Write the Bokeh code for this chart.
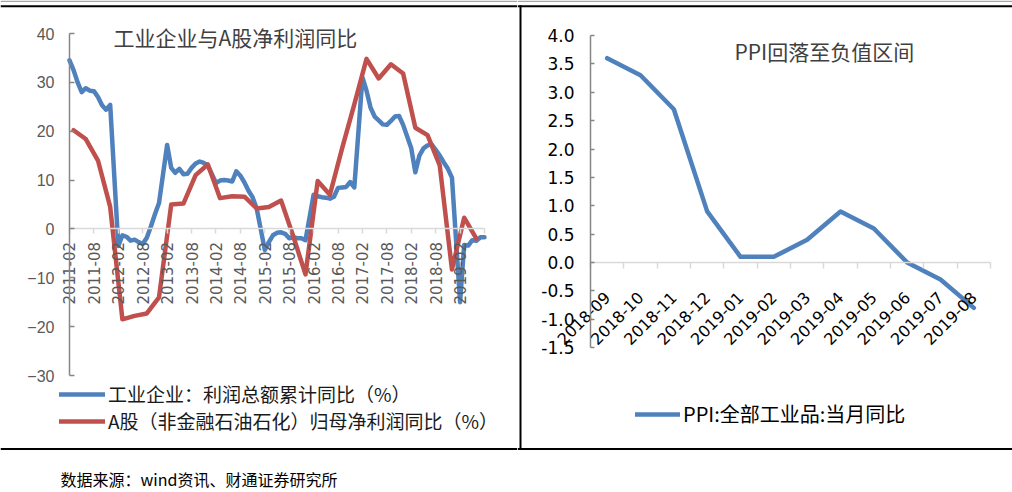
import math
from bokeh.plotting import figure
from bokeh.layouts import column, row
from bokeh.models import FixedTicker, Label, Legend, LegendItem, NumeralTickFormatter, BoxAnnotation
from bokeh.embed import file_html
from bokeh.resources import INLINE

# ---------------- data ----------------
# Industrial enterprises: cumulative profit YoY (%), monthly, January not published
blue_months = [f"{y}-{m:02d}" for y in range(2011, 2020) for m in range(2, 13)
               if not (y == 2019 and m > 8)]
blue_values = [
    34.5, 32.5, 30.0, 28.0, 28.8, 28.3, 28.2, 27.0, 25.3, 24.4, 25.4,   # 2011
    -3.5, -1.3, -1.6, -2.4, -2.2, -2.7, -3.1, -1.8, 0.5, 3.0, 5.3,      # 2012
    17.2, 12.5, 11.5, 12.3, 11.2, 11.3, 12.5, 13.4, 13.8, 13.5, 13.0,   # 2013
    9.4, 9.9, 10.0, 9.9, 9.7, 11.8, 10.9, 9.5, 7.8, 6.5, 4.2,           # 2014
    -4.3, -2.7, -1.3, -0.8, -0.7, -1.0, -1.9, -1.7, -1.9, -1.9, -2.3,   # 2015
    7.0, 6.7, 6.5, 6.4, 6.2, 6.6, 8.4, 8.5, 8.6, 9.6, 8.5,              # 2016
    31.0, 28.3, 24.8, 23.0, 22.2, 21.4, 21.3, 22.1, 23.0, 23.1, 21.3,   # 2017
    16.5, 11.6, 15.0, 16.5, 17.1, 17.3, 16.2, 15.0, 13.6, 12.3, 10.5,   # 2018
    -15.0, -3.3, -3.4, -2.3, -2.4, -1.7, -1.7,                          # 2019
]
# A-shares (ex financials, oil & petrochemicals): net profit YoY (%), quarterly
red_months = [f"{y}-{m:02d}" for y in range(2011, 2020) for m in (3, 6, 9, 12)
              if not (y == 2019 and m > 6)]
red_values = [
    20.2, 18.4, 14.0, 4.5,
    -18.5, -17.8, -17.3, -14.0,
    5.0, 5.2, 11.0, 13.2,
    6.3, 6.7, 6.6, 4.2,
    4.5, 5.8, -1.5, -9.3,
    9.8, 7.0, 16.5, 25.5,
    34.8, 30.8, 33.7, 31.8,
    20.7, 19.2, 13.0, -8.3,
    2.3, -2.0,
]
left_tick_labels = ["2011-02", "2011-08", "2012-02", "2012-08", "2013-02", "2013-08",
                    "2014-02", "2014-08", "2015-02", "2015-08", "2016-02", "2016-08",
                    "2017-02", "2017-08", "2018-02", "2018-08", "2019-02"]
left_axis_end = "2019-08"
left_yticks = [-30, -20, -10, 0, 10, 20, 30, 40]

ppi_months = ["2018-09", "2018-10", "2018-11", "2018-12", "2019-01", "2019-02",
              "2019-03", "2019-04", "2019-05", "2019-06", "2019-07", "2019-08"]
ppi_values = [3.6, 3.3, 2.7, 0.9, 0.1, 0.1, 0.4, 0.9, 0.6, 0.0, -0.3, -0.8]
right_yticks = [-1.5, -1.0, -0.5, 0.0, 0.5, 1.0, 1.5, 2.0, 2.5, 3.0, 3.5, 4.0]

left_title = "工业企业与A股净利润同比"
right_title = "PPI回落至负值区间"
blue_label = "工业企业：利润总额累计同比（%）"
red_label = "A股（非金融石油石化）归母净利润同比（%）"
ppi_label = "PPI:全部工业品:当月同比"
source_text = "数据来源：wind资讯、财通证券研究所"

BLUE = "#4F81BD"
RED = "#C0504D"
CJK = "Noto Sans CJK SC"
LAT = "Liberation Sans"
DJV = "DejaVu Sans"

# ---------------- layout geometry (pixels) ----------------
W, H_MAIN, H_SRC = 1012, 450, 42
LEFT_W = 517
RIGHT_W = W - LEFT_W
# left plot: x axis from px 69 to 484, y: 40 -> px 33, -30 -> px 375
L_X0, L_X1 = 69.0, 484.0
L_Y40, L_YM30 = 33.0, 375.0
# right plot: categories from px 590 to 990, y: 4.0 -> px 35, 0 -> px 262
R_X0, R_X1 = 590.0, 990.0
R_Y4, R_Y0 = 35.0, 262.0


def month_index(s):
    y, m = s.split("-")
    return (int(y) - 2011) * 12 + int(m) - 2


end_idx = month_index(left_axis_end)
lsx = (L_X1 - L_X0) / end_idx
lsy = (L_YM30 - L_Y40) / 70.0
l_zero = L_Y40 + 40 * lsy


def lx(px):
    return (px - L_X0) / lsx


def ly(py):
    return (l_zero - py) / lsy


nR = len(ppi_months)
rsx = (R_X1 - R_X0) / nR
rsy = (R_Y0 - R_Y4) / 4.0


def rx(px):
    return (px - R_X0) / rsx - 0.5


def ry(py):
    return (R_Y0 - py) / rsy


def bare(p):
    p.xgrid.visible = False
    p.ygrid.visible = False
    p.outline_line_color = None
    p.background_fill_color = "white"
    p.border_fill_color = "white"


def decorate(p, fx, fy):
    # top grey + black rules and bottom black rule of the report frame
    p.add_layout(BoxAnnotation(top=fy(0), bottom=fy(1.6), fill_color="#a6a6a6",
                               fill_alpha=1, line_color=None))
    p.add_layout(BoxAnnotation(top=fy(4.7), bottom=fy(6.7), fill_color="black",
                               fill_alpha=1, line_color=None))
    p.add_layout(BoxAnnotation(top=fy(447.5), bottom=fy(H_MAIN), fill_color="black",
                               fill_alpha=1, line_color=None))


# ---------------- left chart ----------------
left = figure(width=LEFT_W, height=H_MAIN, output_backend="svg", toolbar_location=None,
              x_range=(lx(0), lx(LEFT_W)), y_range=(ly(H_MAIN), ly(0)), min_border=0)
bare(left)
decorate(left, lx, ly)

rb = left.line([month_index(m) for m in blue_months], blue_values, line_color=BLUE,
               line_width=4.5, line_join="round", line_cap="round")
rr = left.line([month_index(m) for m in red_months], red_values, line_color=RED,
               line_width=4.5, line_join="round", line_cap="round")

xa = left.xaxis[0]
xa.fixed_location = 0
xa.bounds = (0, end_idx)
tick_pos = [month_index(s) for s in left_tick_labels] + [end_idx]
xa.ticker = FixedTicker(ticks=tick_pos, minor_ticks=[])
overrides = {month_index(s): s for s in left_tick_labels}
overrides[end_idx] = ""
xa.major_label_overrides = overrides
xa.major_label_orientation = math.pi / 2
xa.major_label_text_font = DJV
xa.major_label_text_font_size = "15px"
xa.major_label_text_color = "#595959"
xa.major_label_standoff = 8
xa.axis_line_color = "#d9d9d9"
xa.axis_line_width = 1.5
xa.major_tick_line_color = "#d9d9d9"
xa.major_tick_line_width = 1.5
xa.major_tick_out = 5
xa.major_tick_in = 0
xa.minor_tick_line_color = None

ya = left.yaxis[0]
ya.fixed_location = 0
ya.bounds = (-30, 40)
ya.ticker = FixedTicker(ticks=left_yticks, minor_ticks=[])
ya.major_label_text_font = LAT
ya.major_label_text_font_size = "16px"
ya.major_label_text_color = "#595959"
ya.major_label_standoff = 15
ya.axis_line_color = "#868686"
ya.axis_line_width = 1.5
ya.major_tick_line_color = "#868686"
ya.major_tick_line_width = 1.5
ya.major_tick_in = 5
ya.major_tick_out = 0
ya.minor_tick_line_color = None

left.add_layout(Label(x=113, y=H_MAIN - 36, x_units="screen", y_units="screen", text=left_title,
                      text_font=CJK, text_font_size="21px", text_color="#404040",
                      text_baseline="middle"))

lleg = Legend(items=[LegendItem(label=blue_label, renderers=[rb]),
                     LegendItem(label=red_label, renderers=[rr])],
              location=(59, 16), orientation="vertical", padding=0, margin=0,
              spacing=-4, glyph_width=46, glyph_height=22, label_height=22,
              label_standoff=3, border_line_color=None, background_fill_alpha=0,
              label_text_font=CJK, label_text_font_size="19px", label_text_color="#1a1a1a")
left.add_layout(lleg)

# ---------------- right chart ----------------
right = figure(width=RIGHT_W, height=H_MAIN, output_backend="svg", toolbar_location=None,
               x_range=(rx(LEFT_W), rx(W)), y_range=(ry(H_MAIN), ry(0)), min_border=0)
bare(right)
decorate(right, rx, ry)
# vertical divider between the two panels
right.add_layout(BoxAnnotation(left=rx(519), right=rx(521), top=ry(4.7), bottom=ry(H_MAIN),
                               fill_color="black", fill_alpha=1, line_color=None))

rp = right.line(list(range(nR)), ppi_values, line_color=BLUE, line_width=4.5,
                line_join="round", line_cap="round")

rxa = right.xaxis[0]
rxa.fixed_location = 0
rxa.bounds = (-0.5, nR - 0.5)
rxa.ticker = FixedTicker(ticks=list(range(nR)), minor_ticks=[i - 0.5 for i in range(nR + 1)])
rxa.major_label_overrides = {i: s for i, s in enumerate(ppi_months)}
rxa.major_label_orientation = math.pi / 4
rxa.major_label_text_font = DJV
rxa.major_label_text_font_size = "16px"
rxa.major_label_text_color = "#000000"
rxa.major_label_standoff = 26
rxa.axis_line_color = "#d9d9d9"
rxa.axis_line_width = 1.5
rxa.major_tick_line_color = None
rxa.major_tick_out = 0
rxa.major_tick_in = 0
rxa.minor_tick_line_color = "#d9d9d9"
rxa.minor_tick_line_width = 1.5
rxa.minor_tick_out = 6
rxa.minor_tick_in = 0

rya = right.yaxis[0]
rya.fixed_location = -0.5
rya.bounds = (-1.5, 4.0)
rya.ticker = FixedTicker(ticks=right_yticks, minor_ticks=[])
rya.formatter = NumeralTickFormatter(format="0.0")
rya.major_label_text_font = DJV
rya.major_label_text_font_size = "17px"
rya.major_label_text_color = "#000000"
rya.major_label_standoff = 16
rya.axis_line_color = "#868686"
rya.axis_line_width = 1.5
rya.major_tick_line_color = "#868686"
rya.major_tick_line_width = 1.5
rya.major_tick_in = 4
rya.major_tick_out = 0
rya.minor_tick_line_color = None

right.add_layout(Label(x=734 - LEFT_W, y=H_MAIN - 50, x_units="screen", y_units="screen",
                       text=right_title, text_font=CJK, text_font_size="21px",
                       text_color="#404040", text_baseline="middle"))

rleg = Legend(items=[LegendItem(label=ppi_label, renderers=[rp])],
              location=(635 - LEFT_W, 22), orientation="vertical", padding=0, margin=0,
              glyph_width=45, glyph_height=22, label_height=22, label_standoff=3,
              border_line_color=None, background_fill_alpha=0,
              label_text_font=CJK, label_text_font_size="20px", label_text_color="#000000")
right.add_layout(rleg)

# ---------------- source line ----------------
bottom = figure(width=W, height=H_SRC, output_backend="svg", toolbar_location=None,
                x_axis_location=None, y_axis_location=None, min_border=0,
                x_range=(0, 1), y_range=(0, 1))
bottom.xgrid.visible = False
bottom.ygrid.visible = False
bottom.outline_line_color = None
bottom.add_layout(Label(x=60, y=14, x_units="screen", y_units="screen", text=source_text,
                        text_font=CJK, text_font_size="16px", text_color="#000000",
                        text_baseline="middle"))

page = column(row(left, right), bottom)
open("out.html", "w").write(file_html(page, INLINE))
